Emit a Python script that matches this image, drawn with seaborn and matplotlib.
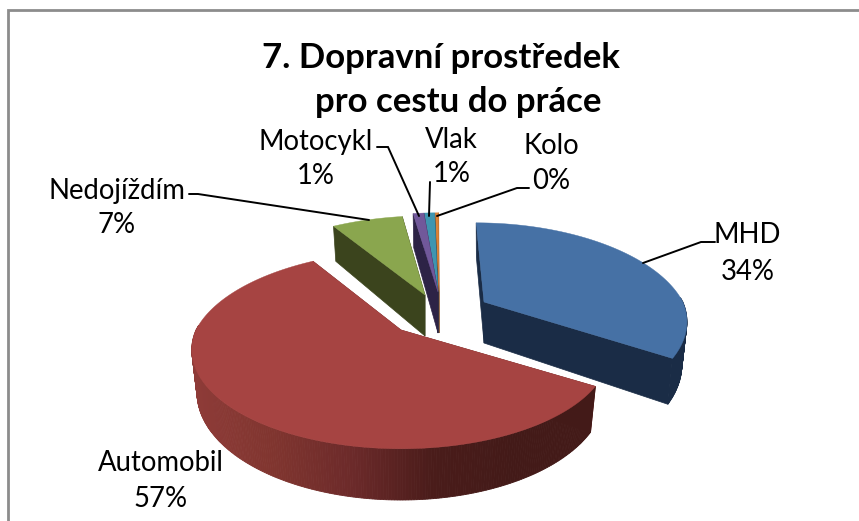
import numpy as np
import matplotlib
matplotlib.use("Agg")
import matplotlib.pyplot as plt
from matplotlib.colors import LinearSegmentedColormap
import seaborn as sns

# --- data ---
categories = ["MHD", "Automobil", "Nedojíždím", "Motocykl", "Vlak", "Kolo"]
values = [33.8, 57, 6.6, 1, 1, 0.3]
pct_labels = ["34%", "57%", "7%", "1%", "1%", "0%"]
title_text = "7. Dopravní prostředek\n    pro cestu do práce"

# --- styles ---
top_colors = ["#4671A5", "#A64442", "#8AA64E", "#71589A", "#3F95B0", "#DC8237"]
side_colors = ["#1A2C46", "#7C2F2C", "#3B441D", "#2D2346", "#19404F", "#7A4418"]
wall_ramp = {1: ["#8E3B38", "#80352F", "#6C2A2A", "#4A1C1A", "#431A18", "#431A18"]}
apex = [(484, 302), (401, 330), (425, 295), (438, 292), (438, 292), (439, 292)]
width_scale = [0.97, 1.0, 1.0, 1.0, 1.0, 1.0]
label_pos = [(747, 235), (161, 463), (117, 191), (316, 142), (451, 140), (551, 146)]
pct_pos = [(748, 272), (161, 499), (117, 225), (316, 176), (452, 174), (551, 181)]
leaders = [
    [(715, 242), (701, 242), (643, 263)],
    None,
    [(189, 194), (198, 194), (369, 220)],
    [(377, 147), (388, 147), (419, 216)],
    [(430, 182), (429, 216)],
    [(529, 188), (517, 188), (437, 216)],
]
RX, RY, DEPTH, K, VANISH_X, BOTTOM_SHRINK = 205.0, 95.0, 41.0, 0.20, 437.0, 0.975

sns.set_theme(style="white")
plt.rcParams["font.family"] = ["Lato", "DejaVu Sans"]
fig = plt.figure(figsize=(8.59, 5.21), dpi=100)
ax = fig.add_axes([0, 0, 1, 1])
ax.set_xlim(0, 859)
ax.set_ylim(521, 0)
ax.axis("off")

# chart frame
ax.plot([8, 8, 859], [521, 10, 10], color="#8C8C8C", lw=2, solid_joinstyle="miter")


def project(theta, ax0, ay0, ws):
    """theta: clockwise from twelve o'clock, radians."""
    X, Y = np.sin(theta), np.cos(theta)
    p = 1.0 / (1.0 + K * Y)
    px = ax0 + ws * RX * X * p + (ax0 - VANISH_X) * (np.minimum(p, 1) - 1)
    return px, ay0 - RY * Y * p, DEPTH * p


total = sum(values)
ends = np.cumsum(values) / total * 2 * np.pi
starts = np.r_[0, ends[:-1]]
order = [5, 4, 3, 2, 0, 1]

for i in order:
    a0, a1 = starts[i], ends[i]
    cx, cy = apex[i]
    th = np.linspace(a0, a1, max(int((a1 - a0) * 90), 8))
    x, y, d = project(th, cx, cy, width_scale[i])
    xb = cx + (x - cx) * BOTTOM_SHRINK
    z = 2 + order.index(i)
    # cut faces
    for j in (0, -1):
        ax.fill([cx, x[j], xb[j], cx], [cy, y[j], y[j] + d[j], cy + DEPTH],
                color=side_colors[i], lw=0.5, zorder=z)
    # outer wall
    if i in wall_ramp:
        cmap = LinearSegmentedColormap.from_list("wall", wall_ramp[i])
    for n in range(len(th) - 1):
        if np.cos(0.5 * (th[n] + th[n + 1])) > 0.05:
            continue
        c = side_colors[i]
        if i in wall_ramp:
            c = cmap(np.clip((x[n] - x.min()) / (x.max() - x.min()), 0, 1))
        ax.fill([x[n], x[n + 1], xb[n + 1], xb[n]],
                [y[n], y[n + 1], y[n + 1] + d[n + 1], y[n] + d[n]],
                color=c, lw=0.6, zorder=z)
    # top
    ax.fill(np.r_[cx, x], np.r_[cy, y], color=top_colors[i], lw=0.3, zorder=z + 0.5)

# leaders
for pts in leaders:
    if pts is None:
        continue
    xs, ys = zip(*pts)
    ax.plot(xs, ys, color="black", lw=1.4, zorder=20, solid_joinstyle="miter")

# labels
for name, pct, lp, pp in zip(categories, pct_labels, label_pos, pct_pos):
    ax.text(*lp, name, ha="center", va="center", fontsize=19.8, color="black", zorder=21)
    ax.text(*pp, pct, ha="center", va="center", fontsize=19.8, color="black", zorder=21)

ax.text(441, 80, title_text, ha="center", va="center", fontsize=25,
        fontweight="bold", color="black", linespacing=1.45, zorder=21)

fig.savefig("out.png", dpi=100, facecolor="white")
